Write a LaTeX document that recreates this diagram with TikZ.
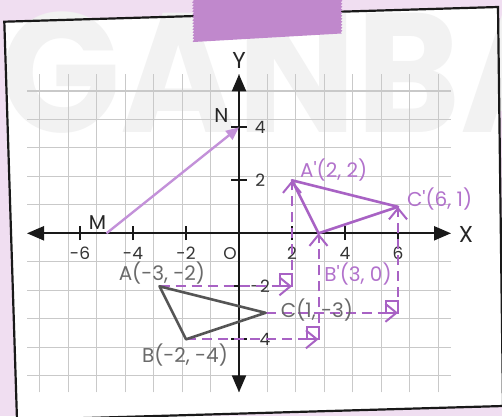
\documentclass[tikz,border=0pt]{standalone}
\usepackage{fontspec}
\setmainfont{Poppins}
\usetikzlibrary{arrows.meta,positioning,calc,decorations.pathmorphing}
\definecolor{sfondolilla}{HTML}{F0DEF1}
\definecolor{nastro}{HTML}{C088CC}
\definecolor{viola}{HTML}{A862C4}
\definecolor{violachiaro}{HTML}{C391D9}
\definecolor{violatesto}{HTML}{B272CC}
\definecolor{grigliagrigio}{HTML}{C9C9C9}
\definecolor{grigiotri}{HTML}{555555}
\definecolor{grigiotesto}{HTML}{6A6A6A}
\definecolor{filigrana}{HTML}{F2F2F2}

\begin{document}
\begin{tikzpicture}[x=1pt, y=-1pt,
    griglia/.style={draw=grigliagrigio, line width=1.1pt},
    asse/.style={draw=black!90, line width=2.2pt, >={Triangle[length=17pt,width=14pt]}, <->},
    tacca/.style={draw=black!90, line width=1.8pt},
    numero/.style={font=\fontsize{17}{20}\selectfont, text=black!80, inner sep=0pt},
    lettera/.style={font=\fontsize{#1}{24}\selectfont, text=black!85, inner sep=0pt},
    punto/.style={font=\fontsize{20}{24}\selectfont, text=#1, inner sep=0pt},
    triangolo/.style={draw=#1, line width=2.6pt, line join=round},
    vettore/.style={draw=violachiaro, line width=2.4pt, -{Triangle[length=13pt,width=11pt]}},
    tratto/.style={draw=viola, line width=2pt, dash pattern=on 10pt off 6pt},
    punta/.style={-{Straight Barb[length=11pt,width=18pt]}},
    quadretto/.style={draw=viola, line width=2pt}
]
\useasboundingbox (0,0) rectangle (502,416);
\clip (0,0) rectangle (502,416);

% Sfondo e cartoncino
\fill[sfondolilla] (0,0) rectangle (502,416);
\coordinate (c1) at (4.3,21.7);
\coordinate (c2) at (498,7);
\coordinate (c3) at (503,406);
\coordinate (c4) at (17,420);
\fill[white] (c1) -- (c2) -- (c3) -- (c4) -- cycle;
\node[anchor=base west, inner sep=0pt, text=filigrana, xscale=0.93, transform shape,
      font=\fontsize{170}{170}\selectfont\bfseries] (scritta) at (0,132) {GANBA};
\draw[black!90, line width=2.2pt] (c1) -- (c2) -- (c3) -- (c4) -- cycle;

\begin{scope}[shift={(239pt,-233.3pt)}, x=26.5pt, y=26.5pt]
% Griglia e assi
\draw[griglia] (-8,-6) grid (8,6);
\coordinate (O) at (0,0);
\coordinate (xsx) at (-8,0);
\coordinate (xdx) at (8,0);
\coordinate (ybasso) at (0,-6);
\coordinate (yalto) at (0,6);
\draw[asse] (xsx) -- (xdx);
\draw[asse] (ybasso) -- (yalto);
\foreach \x in {-6,-4,-2,2,4,6}{
    \draw[tacca] (\x,-0.26) -- (\x,0.26);
    \node[numero] (tx\x) at (\x,-0.76) {\x};
}
\foreach \y in {4,2,-2,-4}{
    \draw[tacca] (-0.3,\y) -- (0.3,\y);
    \node[numero] (ty\y) at (0.8,\y) {\y};
}
\node[numero] (origine) at (-0.34,-0.76) {O};
\node[lettera=23] (asseX) at (8.57,-0.06) {X};
\node[lettera=23] (asseY) at (0,6.52) {Y};

% Punti
\coordinate (M) at (-5,0);
\coordinate (N) at (0,4);
\coordinate (A) at (-3,-2);
\coordinate (B) at (-2,-4);
\coordinate (C) at (1,-3);
\coordinate (Ap) at (2,2);
\coordinate (Bp) at (3,0);
\coordinate (Cp) at (6,1);
\coordinate (KA) at (2,-2);
\coordinate (KB) at (3,-4);
\coordinate (KC) at (6,-3);

% Traslazione
\draw[tratto, punta] (A) -- (KA);
\draw[tratto, punta] (KA) -- (Ap);
\draw[tratto, punta] (B) -- (KB);
\draw[tratto, punta] (KB) -- (Bp);
\draw[tratto, punta] (C) -- (KC);
\draw[tratto, punta] (KC) -- (Cp);
\draw[quadretto] (KA) rectangle ++(-0.45,0.45);
\draw[quadretto] (KB) rectangle ++(-0.45,0.45);
\draw[quadretto] (KC) rectangle ++(-0.45,0.45);

% Triangoli e vettore
\draw[triangolo=grigiotri] (A) -- (B) -- (C) -- cycle;
\draw[triangolo=viola] (Ap) -- (Bp) -- (Cp) -- cycle;
\draw[vettore] (M) -- (N);

% Etichette
\node[lettera=20] (eM) at (-5.34,0.39) {M};
\node[lettera=20] (eN) at (-0.66,4.43) {N};
\node[punto=grigiotesto] (eA) at (-2.91,-1.5) {A(-3, -2)};
\node[punto=grigiotesto] (eB) at (-2.04,-4.59) {B(-2, -4)};
\node[punto=grigiotesto] (eC) at (2.94,-2.89) {C(1, -3)};
\node[punto=violatesto] (eAp) at (3.57,2.39) {A\textquotesingle(2, 2)};
\node[punto=violatesto] (eBp) at (4.49,-1.54) {B\textquotesingle(3, 0)};
\node[punto=violatesto] (eCp) at (7.57,1.31) {C\textquotesingle(6, 1)};
\end{scope}

% Nastro adesivo
\fill[nastro, decoration={zigzag, segment length=3pt, amplitude=0.9pt}]
    (193,0) -- (341.5,0) decorate{-- (341.5,33.5)} -- (193.5,42) decorate{-- (193,0)} -- cycle;
\end{tikzpicture}
\end{document}
